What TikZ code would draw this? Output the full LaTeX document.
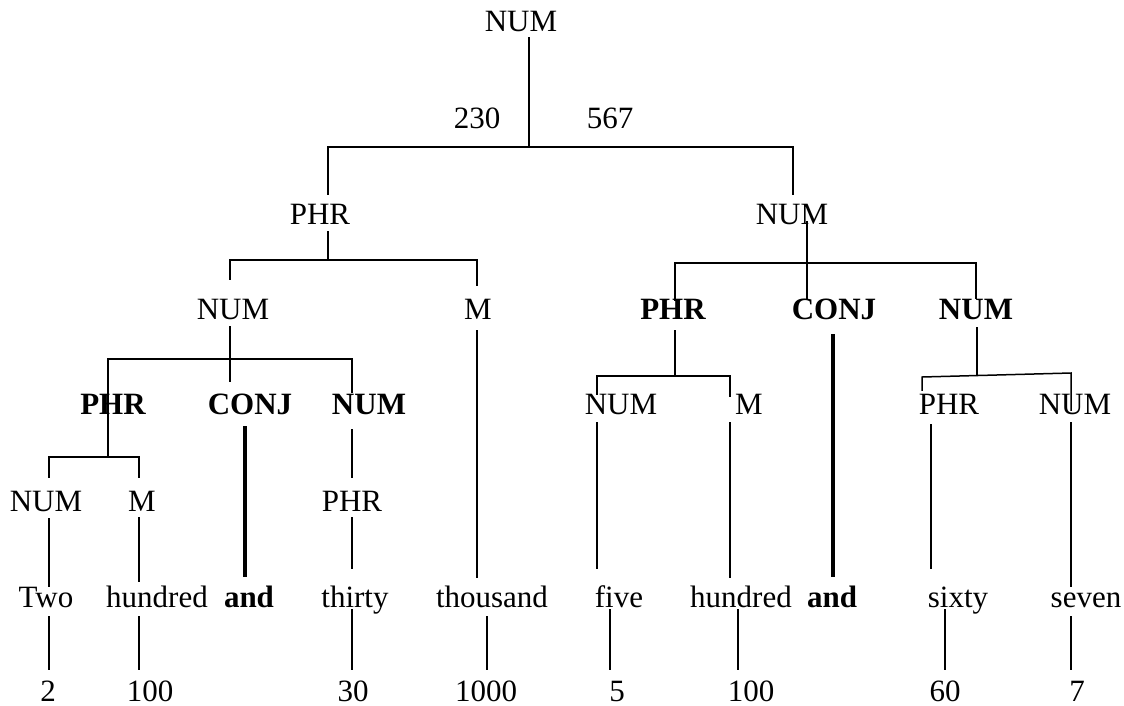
\documentclass[tikz,border=0pt]{standalone}
\usepackage{fontspec}
\setmainfont{Liberation Serif}
\begin{document}
\begin{tikzpicture}[x=1pt,y=-1pt,
  lbl/.style={anchor=base,inner sep=0pt,font=\fontsize{31}{36}\selectfont},
  blbl/.style={lbl,font=\fontsize{31}{36}\selectfont\bfseries},
  ln/.style={line width=1.5pt,line cap=rect},
  thk/.style={line width=4.5pt}]
\useasboundingbox (0,0) rectangle (1124,705);
% row 0
\node[lbl] (root) at (521,31) {NUM};
\node[lbl] (v230) at (477,128) {230};
\node[lbl] (v567) at (610,128) {567};
% row 1
\node[lbl] (phrA) at (320,224) {PHR};
\node[lbl] (numA) at (792,224) {NUM};
% row 2
\node[lbl] (numB) at (233,319) {NUM};
\node[lbl] (mB) at (478,319) {M};
\node[blbl] (phrB) at (673,319) {PHR};
\node[blbl] (conjB) at (834,319) {CONJ};
\node[blbl] (numC) at (976,319) {NUM};
% row 3
\node[blbl] (phrC) at (113,414) {PHR};
\node[blbl] (conjC) at (250,414) {CONJ};
\node[blbl] (numD) at (369,414) {NUM};
\node[lbl] (numE) at (621,414) {NUM};
\node[lbl] (mC) at (749,414) {M};
\node[lbl] (phrD) at (949,414) {PHR};
\node[lbl] (numF) at (1075,414) {NUM};
% row 4
\node[lbl] (numG) at (46,511) {NUM};
\node[lbl] (mD) at (142,511) {M};
\node[lbl] (phrE) at (352,511) {PHR};
% row 5
\node[lbl] (wTwo) at (46,607) {Two};
\node[lbl] (wHundA) at (157,607) {hundred};
\node[blbl] (wAndA) at (249,607) {and};
\node[lbl] (wThirty) at (355,607) {thirty};
\node[lbl] (wThousand) at (492,607) {thousand};
\node[lbl] (wFive) at (619,607) {five};
\node[lbl] (wHundB) at (741,607) {hundred};
\node[blbl] (wAndB) at (832,607) {and};
\node[lbl] (wSixty) at (958,607) {sixty};
\node[lbl] (wSeven) at (1086,607) {seven};
% row 6
\node[lbl] (d2) at (48,701) {2};
\node[lbl] (d100a) at (150,701) {100};
\node[lbl] (d30) at (353,701) {30};
\node[lbl] (d1000) at (486,701) {1000};
\node[lbl] (d5) at (617,701) {5};
\node[lbl] (d100b) at (751,701) {100};
\node[lbl] (d60) at (945,701) {60};
\node[lbl] (d7) at (1077,701) {7};
% connectors
\draw[ln] (529,38) -- (529,147);
\draw[ln] (328,194) |- (793,147) -- (793,194);
\draw[ln] (328,232) -- (328,260);
\draw[ln] (230,279) |- (477,260) -- (477,285);
\draw[ln] (807,222) -- (807,298);
\draw[ln] (675,300) |- (976,263) -- (976,298);
\draw[ln] (675,331) -- (675,376);
\draw[ln] (597,394) |- (730,376) -- (730,396);
\draw[thk] (833,334) -- (833,577);
\draw[ln] (977,328) -- (977,375);
\draw[ln] (922,390) -- (922,377) -- (1071,373) -- (1071,410);
\draw[ln] (230,327) -- (230,381);
\draw[ln] (108,359) -- (352,359) -- (352,392);
\draw[ln] (108,359) -- (108,457);
\draw[ln] (477,331) -- (477,577);
\draw[thk] (245,426) -- (245,577);
\draw[ln] (352,430) -- (352,477);
\draw[ln] (49,477) |- (139,457) -- (139,477);
\draw[ln] (352,518) -- (352,568);
\draw[ln] (49,519) -- (49,586);
\draw[ln] (139,518) -- (139,581);
\draw[ln] (597,423) -- (597,568);
\draw[ln] (730,423) -- (730,577);
\draw[ln] (931,425) -- (931,568);
\draw[ln] (1071,423) -- (1071,586);
\draw[ln] (49,617) -- (49,669);
\draw[ln] (139,617) -- (139,669);
\draw[ln] (352,610) -- (352,669);
\draw[ln] (487,617) -- (487,669);
\draw[ln] (610,610) -- (610,669);
\draw[ln] (738,610) -- (738,669);
\draw[ln] (945,610) -- (945,669);
\draw[ln] (1071,617) -- (1071,669);
\end{tikzpicture}
\end{document}
